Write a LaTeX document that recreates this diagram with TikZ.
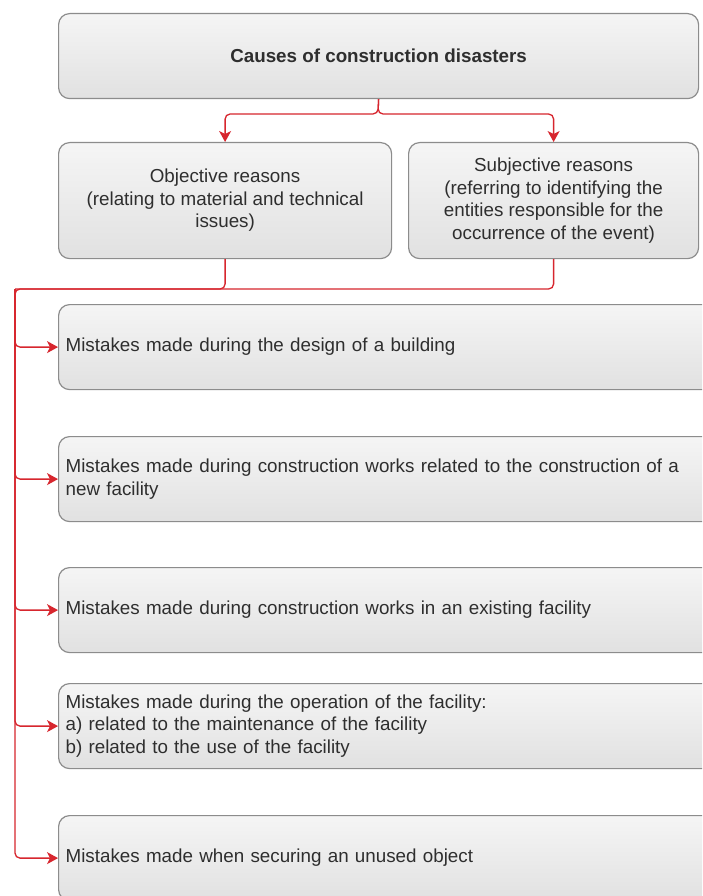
\documentclass[tikz,border=0pt]{standalone}
\usepackage{fontspec}
\setmainfont{Liberation Sans}
\usetikzlibrary{arrows.meta, positioning}
\definecolor{ink}{HTML}{2E2E2E}
\definecolor{rulecolor}{HTML}{8C8C8C}
\definecolor{paneltop}{HTML}{F5F5F5}
\definecolor{panelbot}{HTML}{E1E1E1}
\definecolor{flowred}{HTML}{D7262E}
\newcommand{\boxfont}{\fontsize{18.8}{22.5}\selectfont}
\tikzset{
  box/.style  ={draw=rulecolor, line width=1.2pt, rounded corners=11pt,
                top color=paneltop, bottom color=panelbot, anchor=north west,
                text=ink, inner sep=7pt, minimum height=85pt, font=\boxfont},
  boxc/.style ={box, align=center},
  boxl/.style ={box, align=left, text width=646pt, minimum width=660pt},
  flow/.style ={-{Stealth[length=11pt,width=12pt,inset=3pt]}, draw=flowred,
                line width=1.3pt, rounded corners=5pt}
}

\begin{document}
\begin{tikzpicture}[x=1pt, y=-1pt]
  \clip (0,0) rectangle (702,896);
  \fill[white] (0,0) rectangle (702,896);

  \node[boxc, minimum width=640pt, font=\boxfont\bfseries] (causes) at (58,13)
    {Causes of construction disasters};
  \node[boxc, minimum width=333pt, minimum height=116pt] (objective) at (58,142)
    {Objective reasons\\(relating to material and technical\\issues)};
  \node[boxc, minimum width=290pt, minimum height=116pt] (subjective) at (408,142)
    {Subjective reasons\\(referring to identifying the\\entities responsible for the\\occurrence of the event)};

  \node[boxl] (design)    at (58,304) {Mistakes made during the design of a building};
  \node[boxl] (newfac)    at (58,436) {Mistakes made during construction works related to the construction of a\\new facility};
  \node[boxl] (existing)  at (58,567) {Mistakes made during construction works in an existing facility};
  \node[boxl] (operation) at (58,683) {Mistakes made during the operation of the facility:\\a) related to the maintenance of the facility\\b) related to the use of the facility};
  \node[boxl] (unused)    at (58,815) {Mistakes made when securing an unused object};

  \coordinate (split) at (378,114);
  \coordinate (bus)   at (15,289);

  \draw[flow] (causes.south) -- (split) -| (objective.north);
  \draw[flow] (causes.south) -- (split) -| (subjective.north);
  \draw[flow, -] (objective.south) |- (bus);
  \draw[flow] (subjective.south) |- (bus) |- (unused.west);
  \foreach \m in {design, newfac, existing, operation}
    \draw[flow] (bus) |- (\m.west);
\end{tikzpicture}
\end{document}
